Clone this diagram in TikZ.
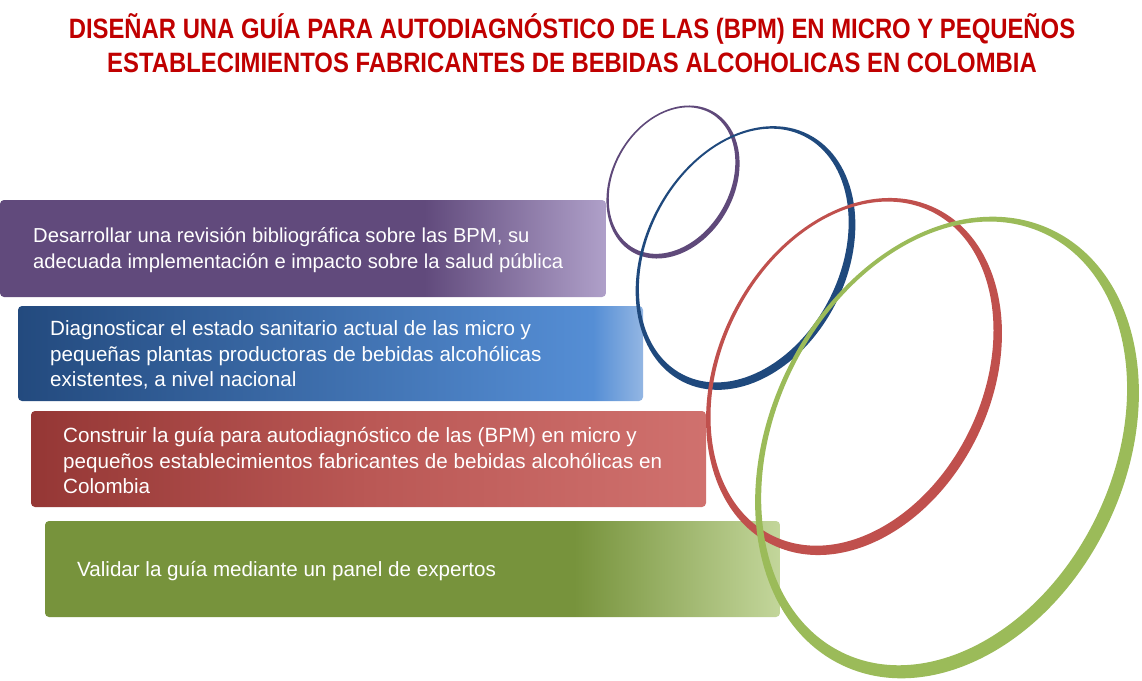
\documentclass[tikz,border=0pt]{standalone}
\usepackage{fontspec}
\setmainfont{Liberation Sans}
\newfontfamily\titlefont[FakeStretch=0.852]{Liberation Sans}
\definecolor{titlered}{HTML}{C00000}
\definecolor{pA}{HTML}{614A7C}
\definecolor{pB}{HTML}{AFA0C9}
\definecolor{bA}{HTML}{234A7E}
\definecolor{bB}{HTML}{558ED5}
\definecolor{bC}{HTML}{93B6E3}
\definecolor{rA}{HTML}{953735}
\definecolor{rB}{HTML}{BA5855}
\definecolor{rC}{HTML}{D0716E}
\definecolor{gA}{HTML}{77933C}
\definecolor{gB}{HTML}{C3D69B}
\definecolor{ringP}{HTML}{5F497A}
\definecolor{ringB}{HTML}{1F497D}
\definecolor{ringR}{HTML}{C0504D}
\definecolor{ringG}{HTML}{9BBB59}
\pgfdeclarehorizontalshading{purpsh}{100bp}{color(0bp)=(pA); color(25bp)=(pA); color(60bp)=(pA); color(75bp)=(pB); color(100bp)=(pB)}
\pgfdeclarehorizontalshading{bluesh}{100bp}{color(0bp)=(bA); color(25bp)=(bA); color(71bp)=(bB); color(75bp)=(bC); color(100bp)=(bC)}
\pgfdeclarehorizontalshading{redsh}{100bp}{color(0bp)=(rA); color(25bp)=(rA); color(50bp)=(rB); color(75bp)=(rC); color(100bp)=(rC)}
\pgfdeclarehorizontalshading{greensh}{100bp}{color(0bp)=(gA); color(25bp)=(gA); color(61bp)=(gA); color(75bp)=(gB); color(100bp)=(gB)}
\tikzset{
  box/.style={shade, rounded corners=4pt, inner sep=0pt, outer sep=0pt, anchor=north west},
  txt/.style={text=white, align=left, anchor=west, inner sep=0pt, font=\fontsize{20.6}{25.5}\selectfont},
  txtp/.style={txt, font=\fontsize{20.2}{25.5}\selectfont},
  titletxt/.style={text=titlered, align=center, inner sep=0pt, font=\titlefont\bfseries\fontsize{28}{34}\selectfont},
}
% ring: center x, center y, a, b, angle, mean thickness, offset, colour
\newcommand{\myring}[8]{%
  \begin{scope}[shift={(#1,#2)}, rotate=#5]
    \fill[#8, even odd rule] (0,0) ellipse [x radius=#3, y radius=#4]
      ($(125-#5:#7)$) ellipse [x radius={#3-#6}, y radius={#4-#6}];
  \end{scope}}
\usetikzlibrary{calc}
\begin{document}
\begin{tikzpicture}[x=1pt, y=1pt]
\useasboundingbox (0,0) rectangle (1142,-680);
\fill[white] (0,0) rectangle (1142,-680);

\node[titletxt] (title) at (572,-43) {DISEÑAR UNA GUÍA PARA AUTODIAGNÓSTICO DE LAS (BPM) EN MICRO Y PEQUEÑOS\\ESTABLECIMIENTOS FABRICANTES DE BEBIDAS ALCOHOLICAS EN COLOMBIA};

\node[box, shading=purpsh, minimum width=606pt, minimum height=97pt] (b1) at (0,-200) {};
\node[box, shading=bluesh, minimum width=625pt, minimum height=95pt] (b2) at (18,-306) {};
\node[box, shading=redsh, minimum width=675pt, minimum height=96pt] (b3) at (31,-411) {};
\node[box, shading=greensh, minimum width=735pt, minimum height=96pt] (b4) at (45,-521) {};

\node[txtp] (t1) at (33,-250) {Desarrollar una revisión bibliográfica sobre las BPM, su\\adecuada implementación e impacto sobre la salud pública};
\node[txt] (t2) at (50,-355) {Diagnosticar el estado sanitario actual de las micro y\\pequeñas plantas productoras de bebidas alcohólicas\\existentes, a nivel nacional};
\node[txt] (t3) at (63,-461) {Construir la guía para autodiagnóstico de las (BPM) en micro y\\pequeños establecimientos fabricantes de bebidas alcohólicas en\\Colombia};
\node[txt] (t4) at (77,-571) {Validar la guía mediante un panel de expertos};

\myring{673}{-182}{81}{61}{60}{3.3}{1.7}{ringP}
\myring{745.5}{-258}{138.7}{101}{63}{5}{3}{ringB}
\myring{854}{-376.5}{187}{137}{64}{6.5}{3.5}{ringR}
\myring{947}{-447.5}{241.6}{178}{64}{9}{5}{ringG}
\end{tikzpicture}
\end{document}
